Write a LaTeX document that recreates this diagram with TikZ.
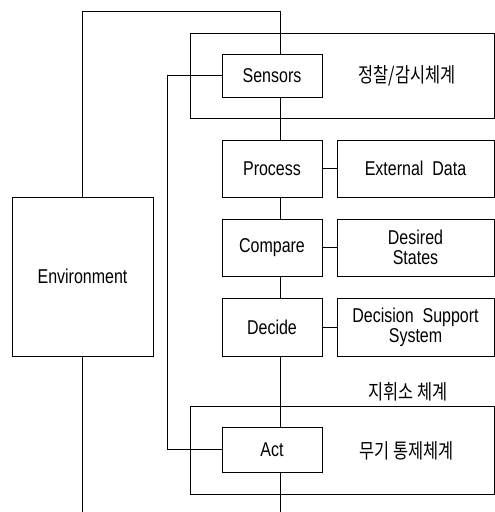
\documentclass[tikz,border=0pt]{standalone}
\usepackage{fontspec}
\setmainfont{Liberation Sans}[FakeStretch=0.8]
\newfontfamily\kr{Noto Sans CJK KR}[FakeStretch=0.8]
\begin{document}
\begin{tikzpicture}[x=1pt,y=-1pt,
  every node/.style={font=\fontsize{20}{20}\selectfont},
  blk/.style={draw,line width=0.9pt,minimum width=100pt,inner sep=0pt,align=center},
  side/.style={draw,line width=0.9pt,minimum width=157pt,inner sep=0pt,align=center},
  grp/.style={draw,line width=0.9pt,minimum width=304pt,inner sep=0pt},
  lbl/.style={inner sep=0pt,font=\kr\fontsize{20.5}{21}\selectfont},
  wire/.style={line width=0.9pt}]
\useasboundingbox (0,0) rectangle (495,512);
\node[grp,minimum height=85pt] (g1) at (342,75.5) {};
\node[grp,minimum height=88pt] (g2) at (342,450) {};
\node[blk,fill=white,minimum height=43pt] (sens) at (272,75.5) {Sensors};
\node[blk,minimum height=57pt] (proc) at (272,168.5) {Process};
\node[blk,minimum height=57pt] (comp) at (272,247.5) {Compare};
\node[blk,minimum height=58pt] (dec) at (272,327) {Decide};
\node[blk,fill=white,minimum height=45pt] (act) at (272,449.5) {Act};
\node[side,minimum height=57pt] (ext) at (415.5,168.5) {External\ \ Data};
\node[side,minimum height=57pt] (des) at (415.5,247.5) {Desired\\States};
\node[side,minimum height=58pt] (dss) at (415.5,327) {Decision\ \ Support\\System};
\node[draw,line width=0.9pt,minimum width=141pt,minimum height=159pt,inner sep=0pt] (env) at (82.5,276.5) {Environment};
\node[lbl] (l1) at (407,76) {정찰/감시체계};
\node[lbl] (l2) at (408,392) {지휘소 체계};
\node[lbl] (l3) at (407,451) {무기 통제체계};
\coordinate (cx) at (280,0);
\coordinate (top) at (0,11);
\coordinate (bot) at (0,512);
\coordinate (lx) at (167,0);
\draw[wire] (env.north) |- (top -| cx) -- (sens.north -| cx);
\draw[wire] (sens.south -| cx) -- (proc.north -| cx);
\draw[wire] (proc.south -| cx) -- (comp.north -| cx);
\draw[wire] (comp.south -| cx) -- (dec.north -| cx);
\draw[wire] (dec.south -| cx) -- (act.north -| cx);
\draw[wire] (act.south -| cx) -- (bot -| cx);
\draw[wire] (env.south) -- (bot -| env.south);
\draw[wire] (sens.west) -| (lx |- act.west) -- (act.west);
\draw[wire] (proc.east) -- (ext.west);
\draw[wire] (comp.east) -- (des.west);
\draw[wire] (dec.east) -- (dss.west);
\end{tikzpicture}
\end{document}
